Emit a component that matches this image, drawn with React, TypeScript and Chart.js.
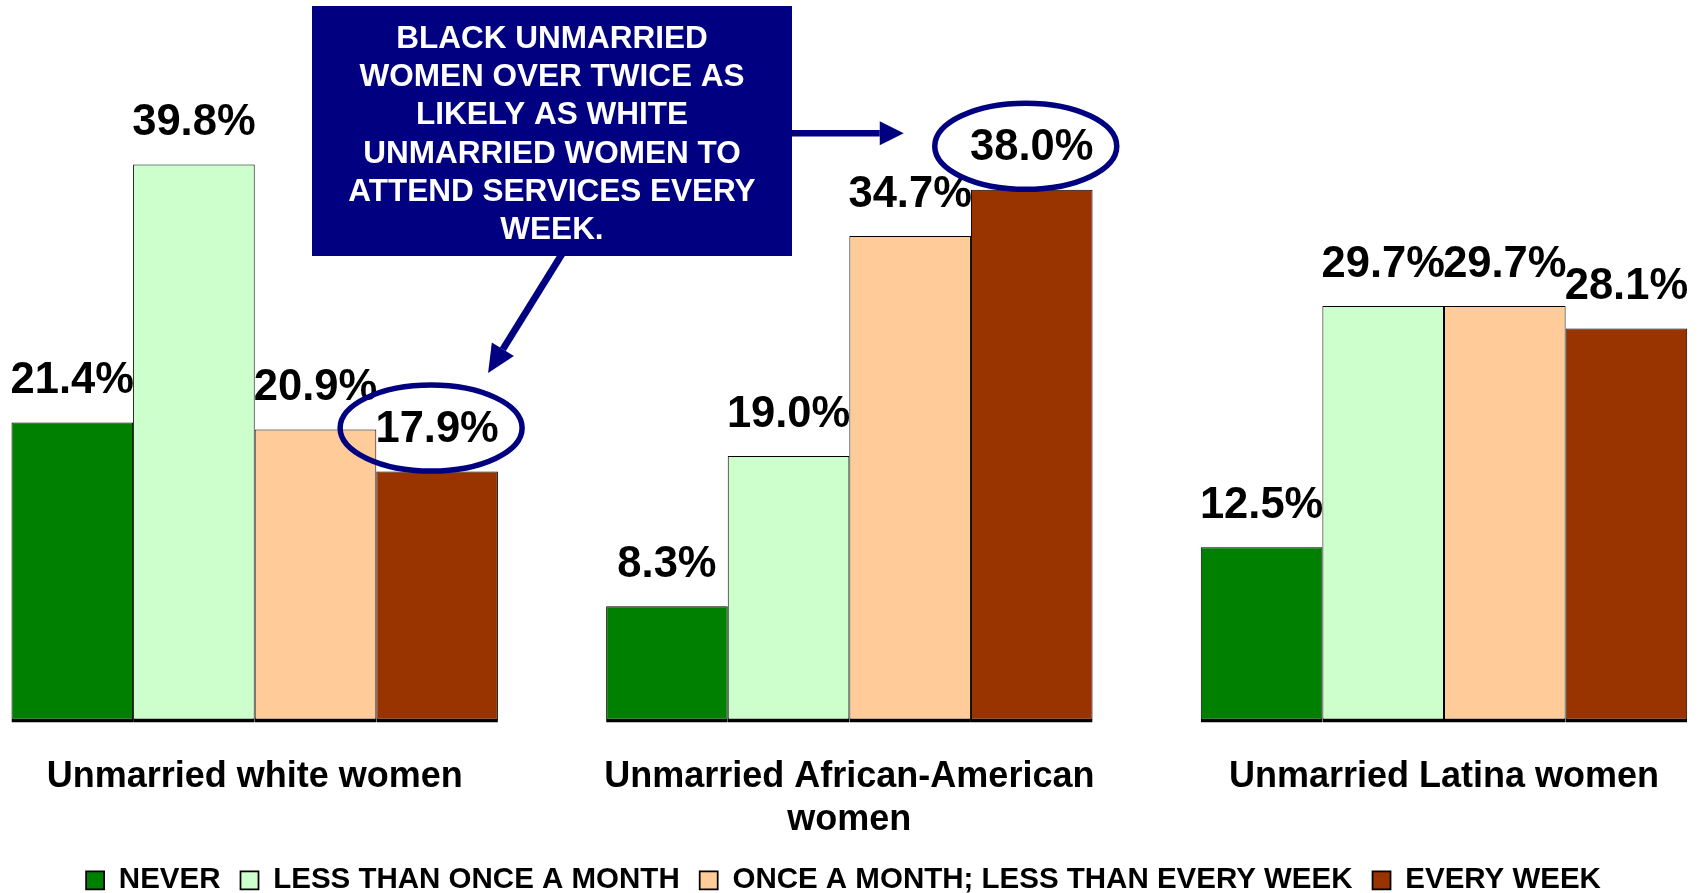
import { useEffect, useRef } from 'react';
import { Chart, registerables } from 'chart.js';

Chart.register(...registerables);

const categories: (string | string[])[] = [
  'Unmarried white women',
  ['Unmarried African-American', 'women'],
  'Unmarried Latina women',
];
const seriesNames = ['NEVER', 'LESS THAN ONCE A MONTH', 'ONCE A MONTH; LESS THAN EVERY WEEK', 'EVERY WEEK'];
const neverValues = [21.4, 8.3, 12.5];
const lessThanMonthlyValues = [39.8, 19.0, 29.7];
const monthlyValues = [20.9, 34.7, 29.7];
const weeklyValues = [17.9, 38.0, 28.1];
const seriesColors = ['#008000', '#CCFFCC', '#FFCC99', '#993300'];
const calloutLines = [
  'BLACK UNMARRIED',
  'WOMEN OVER TWICE AS',
  'LIKELY AS WHITE',
  'UNMARRIED WOMEN TO',
  'ATTEND SERVICES EVERY',
  'WEEK.',
];
// bars whose labels are circled: [datasetIndex, categoryIndex]
const highlighted: [number, number][] = [
  [3, 0],
  [3, 1],
];

const FONT = '"Liberation Sans", Arial, Helvetica, sans-serif';
const NAVY = '#000080';
const LABEL_GAP = 29.5;
const LABEL_FONT = 43.5;

const valueLabels = {
  id: 'valueLabels',
  afterDatasetsDraw(chart: any) {
    const ctx = chart.ctx;
    ctx.save();
    ctx.font = `bold ${LABEL_FONT}px ${FONT}`;
    ctx.fillStyle = '#000';
    ctx.textAlign = 'center';
    ctx.textBaseline = 'alphabetic';
    chart.data.datasets.forEach((ds: any, di: number) => {
      const meta = chart.getDatasetMeta(di);
      meta.data.forEach((el: any, i: number) => {
        const v = ds.data[i] as number;
        ctx.fillText(`${v.toFixed(1)}%`, el.x, el.y - LABEL_GAP);
      });
    });
    ctx.restore();
  },
};

function drawArrow(ctx: CanvasRenderingContext2D, x1: number, y1: number, x2: number, y2: number, w: number, headLen: number, headHalf: number) {
  const ang = Math.atan2(y2 - y1, x2 - x1);
  const bx = x2 - headLen * Math.cos(ang);
  const by = y2 - headLen * Math.sin(ang);
  ctx.lineWidth = w;
  ctx.lineCap = 'butt';
  ctx.beginPath();
  ctx.moveTo(x1, y1);
  ctx.lineTo(bx, by);
  ctx.stroke();
  ctx.beginPath();
  ctx.moveTo(x2, y2);
  ctx.lineTo(bx + headHalf * Math.sin(ang), by - headHalf * Math.cos(ang));
  ctx.lineTo(bx - headHalf * Math.sin(ang), by + headHalf * Math.cos(ang));
  ctx.closePath();
  ctx.fill();
}

const callout = {
  id: 'callout',
  afterDraw(chart: any) {
    const ctx: CanvasRenderingContext2D = chart.ctx;
    ctx.save();
    const centers = highlighted.map(([d, i]) => {
      const el = chart.getDatasetMeta(d).data[i];
      return { x: el.x - 6, y: el.y - LABEL_GAP - 15 + 1 };
    });
    // ellipses
    ctx.strokeStyle = NAVY;
    ctx.fillStyle = NAVY;
    ctx.lineWidth = 5.5;
    centers.forEach((c) => {
      ctx.beginPath();
      ctx.ellipse(c.x, c.y, 91, 43, 0, 0, Math.PI * 2);
      ctx.stroke();
    });
    // box
    const bx = 312, by = 6, bw = 480, bh = 250;
    // arrows
    const tipA = { x: centers[1].x - 122, y: centers[1].y - 13 };
    drawArrow(ctx, bx + bw - 2, tipA.y, tipA.x, tipA.y, 6.5, 24, 12);
    const tipB = { x: centers[0].x + 57, y: centers[0].y - 55 };
    drawArrow(ctx, 562, by + bh - 2, tipB.x, tipB.y, 7, 28, 13);
    ctx.fillRect(bx, by, bw, bh);
    ctx.fillStyle = '#fff';
    ctx.font = `bold 31.5px ${FONT}`;
    ctx.textAlign = 'center';
    ctx.textBaseline = 'alphabetic';
    calloutLines.forEach((line, i) => {
      ctx.fillText(line, bx + bw / 2, 48 + i * 38.2);
    });
    ctx.restore();
  },
};

export default function App() {
  const canvasRef = useRef<HTMLCanvasElement | null>(null);

  useEffect(() => {
    if (!canvasRef.current) return;
    const seriesValues = [neverValues, lessThanMonthlyValues, monthlyValues, weeklyValues];
    const chart = new Chart(canvasRef.current, {
      type: 'bar',
      data: {
        labels: categories as any,
        datasets: seriesNames.map((name, i) => ({
          label: name,
          data: seriesValues[i],
          backgroundColor: seriesColors[i],
          borderColor: '#000',
          borderWidth: { top: 1, left: 1, right: 1, bottom: 4 } as any,
          borderSkipped: false,
          categoryPercentage: 0.818,
          barPercentage: 1,
          clip: false as any,
        })),
      },
      options: {
        responsive: true,
        maintainAspectRatio: false,
        animation: false,
        events: [],
        layout: { padding: { top: 21.5, left: 0, right: 16, bottom: -12 } },
        scales: {
          x: {
            offset: false,
            grid: { display: false, drawTicks: false },
            border: { display: false },
            ticks: {
              autoSkip: false,
              maxRotation: 0,
              minRotation: 0,
              padding: 32.5,
              color: '#000',
              font: { family: FONT, size: 36, weight: 'bold', lineHeight: 1.2 },
            },
            afterFit: (s: any) => {
              s.height = 123;
            },
          },
          y: {
            min: 0,
            max: 50,
            position: 'left',
            ticks: { display: false },
            grid: { display: false, drawTicks: false },
            border: { display: false },
            afterFit: (s: any) => {
              s.width = 254.7;
            },
          },
          yRight: {
            axis: 'y',
            position: 'right',
            min: 0,
            max: 50,
            ticks: { display: false },
            grid: { display: false, drawTicks: false },
            border: { display: false },
            afterFit: (s: any) => {
              s.width = 243;
            },
          } as any,
        },
        plugins: {
          legend: {
            position: 'bottom',
            labels: {
              boxWidth: 18,
              boxHeight: 18,
              padding: 20,
              color: '#000',
              font: { family: FONT, size: 29.5, weight: 'bold' },
            },
          },
          tooltip: { enabled: false },
        },
      },
      plugins: [valueLabels, callout],
    });
    return () => chart.destroy();
  }, []);

  return (
    <div style={{ position: 'fixed', left: 0, top: 0, width: 1703, height: 893, background: '#fff' }}>
      <canvas ref={canvasRef} />
    </div>
  );
}
